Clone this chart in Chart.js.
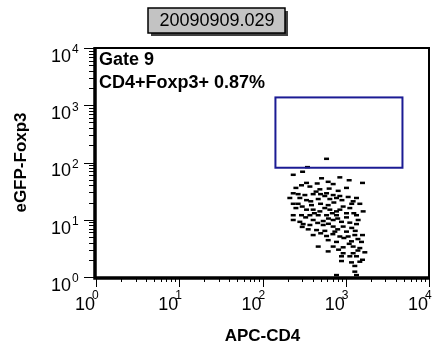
<!DOCTYPE html>
<html>
<head>
<meta charset="utf-8">
<script src="https://cdn.jsdelivr.net/npm/chart.js@4.4.1/dist/chart.umd.min.js"></script>
<style>
  body { margin: 0; background: #fff; }
</style>
</head>
<body>
<canvas id="plot" width="437" height="349"></canvas>
<script>
// events (APC-CD4 vs eGFP-Foxp3)
const apcCD4 = [
  588, 347, 303, 234,
  512, 849, 1099, 1589,
  338, 454, 615, 706, 1021,
  294, 252, 371, 489, 632, 811,
  234, 268, 323, 406, 498, 588, 706, 849, 1069, 1346,
  213, 281, 338, 467, 644, 774, 1227,
  234, 268, 388, 498, 615, 931, 1119, 1476,
  252, 338, 406, 489, 644, 774, 1021, 1618,
  234, 294, 371, 467, 588, 774, 1021, 1346,
  234, 281, 406, 536, 706, 889, 1119, 1409,
  308, 371, 536, 706, 931, 1346,
  354, 446, 561, 740, 1021,
  406, 588, 849, 1069, 1285, 1589,
  615, 774, 1172, 1546,
  467, 706, 931, 1227, 1476,
  615, 931, 1227, 1695,
  889, 1119, 1346,
  889, 1172, 1476, 1589,
  1285, 1285, 774, 1346,
  440, 560, 900, 380, 720, 1180, 300, 560, 850, 420, 690, 1250,
  330, 620, 800, 460, 620, 1180, 300, 800, 1300, 500, 700, 950, 1400, 1100, 820, 1400
];
const eGFPFoxp3 = [
  116, 83, 69, 61,
  53, 55, 49, 44,
  44, 43, 46, 42, 36,
  40, 36, 38, 34, 35, 32,
  29, 28, 27, 28, 28, 29, 27, 26, 25, 24,
  24, 24, 22, 23, 23, 24, 21,
  19, 19, 18, 19, 18, 17, 16, 19,
  16, 15, 15, 14, 15, 14, 13, 14,
  12, 12, 12, 12, 12, 12, 11, 12,
  9.9, 9.2, 9.9, 9.5, 9.9, 9.2, 8.9, 9.9,
  8.4, 8.1, 8.1, 7.6, 7.6, 8.4,
  6.8, 6.6, 6.4, 6.2, 6.2,
  5.4, 5.2, 5.1, 5.1, 5.4, 5.4,
  4.4, 4.1, 4.2, 4.1,
  3.4, 3.4, 3.3, 3.4, 3.2,
  2.8, 2.6, 2.6, 2.7,
  2.3, 2.3, 2.3,
  1.9, 1.8, 1.85, 2.0,
  1.56, 1.24, 1.08, 1.08,
  31, 26, 22, 21, 20, 19, 17, 16, 15, 13, 13, 13,
  11, 10.5, 10.5, 8.8, 8.5, 7.2, 7.5, 6.8, 6.4, 5.8, 5.6, 4.8, 4.6, 3.8, 3.0, 2.9
];
const decades = [1, 10, 100, 1000, 10000];
const exponents = ["0", "1", "2", "3", "4"];
const gateBox = [143, 4800, 81, 1370]; // x from, x to, y from, y to
const fileName = "20090909.029";
const gateLabel = "Gate 9";
const gateStat = "CD4+Foxp3+ 0.87%";
const xTitle = "APC-CD4";
const yTitle = "eGFP-Foxp3";

const points = apcCD4.map((v, i) => ({ x: v, y: eGFPFoxp3[i] }));

const FONT = "Arial, 'Liberation Sans', sans-serif";

const decorations = {
  id: "decorations",
  afterDraw(chart) {
    const ctx = chart.ctx;
    const xs = chart.scales.x, ys = chart.scales.y;
    const a = chart.chartArea;
    ctx.save();
    ctx.strokeStyle = "#000";
    ctx.fillStyle = "#000";

    // frame: heavy left/bottom, thin top/right
    ctx.lineWidth = 2;
    ctx.beginPath();
    ctx.moveTo(a.left, a.top); ctx.lineTo(a.right, a.top); ctx.lineTo(a.right, a.bottom);
    ctx.stroke();
    ctx.lineWidth = 3.5;
    ctx.beginPath();
    ctx.moveTo(a.left - 1, a.top - 1); ctx.lineTo(a.left - 1, a.bottom + 1); ctx.lineTo(a.right + 1, a.bottom + 1);
    ctx.stroke();

    // log ticks
    ctx.lineWidth = 1;
    for (let d = 0; d < decades.length; d++) {
      const steps = d === decades.length - 1 ? 1 : 9;
      for (let m = 1; m <= steps; m++) {
        const v = decades[d] * m;
        const len = m === 1 ? 10 : 5;
        const py = Math.round(ys.getPixelForValue(v)) + 0.5;
        ctx.beginPath(); ctx.moveTo(a.left - 2 - len, py); ctx.lineTo(a.left, py); ctx.stroke();
        const px = Math.round(xs.getPixelForValue(v)) + 0.5;
        ctx.beginPath(); ctx.moveTo(px, a.bottom + 2); ctx.lineTo(px, a.bottom + 2 + len - 2); ctx.stroke();
      }
    }

    // tick labels 10^n
    decades.forEach((v, i) => {
      const py = ys.getPixelForValue(v);
      ctx.textBaseline = "middle";
      ctx.font = "18px " + FONT;
      ctx.textAlign = "right";
      ctx.fillText("10", 71, py + 9);
      ctx.font = "12px " + FONT;
      ctx.textAlign = "left";
      ctx.fillText(exponents[i], 72, py + 2);

      const px = xs.getPixelForValue(v);
      ctx.font = "18px " + FONT;
      ctx.textAlign = "right";
      ctx.fillText("10", px - 1, 305);
      ctx.font = "12px " + FONT;
      ctx.textAlign = "left";
      ctx.fillText(exponents[i], px - 4, 296);
    });

    // axis titles
    ctx.font = "bold 17px " + FONT;
    ctx.textAlign = "center";
    ctx.textBaseline = "middle";
    ctx.fillText(xTitle, (a.left + a.right) / 2, 336);
    ctx.save();
    ctx.translate(21, (a.top + a.bottom) / 2);
    ctx.rotate(-Math.PI / 2);
    ctx.fillText(yTitle, 0, 0);
    ctx.restore();

    // gate rectangle
    const gx1 = xs.getPixelForValue(gateBox[0]), gx2 = xs.getPixelForValue(gateBox[1]);
    const gy1 = ys.getPixelForValue(gateBox[2]), gy2 = ys.getPixelForValue(gateBox[3]);
    ctx.strokeStyle = "#1b1b94";
    ctx.lineWidth = 2;
    ctx.strokeRect(gx1, gy2, gx2 - gx1, gy1 - gy2);

    // gate text
    ctx.fillStyle = "#000";
    ctx.font = "bold 18px " + FONT;
    ctx.textAlign = "left";
    ctx.fillText(gateLabel, a.left + 3, 60);
    ctx.fillText(gateStat, a.left + 3, 83);

    // file name box with shadow
    ctx.fillStyle = "#404040";
    ctx.fillRect(151, 11, 137, 25);
    ctx.fillStyle = "#c3c3c3";
    ctx.fillRect(148, 8, 137, 25);
    ctx.strokeStyle = "#000";
    ctx.lineWidth = 1.5;
    ctx.strokeRect(148, 8, 137, 25);
    ctx.fillStyle = "#000";
    ctx.font = "18px " + FONT;
    ctx.textAlign = "center";
    ctx.fillText(fileName, 217, 21);

    ctx.restore();
  }
};

new Chart(document.getElementById("plot"), {
  type: "scatter",
  data: {
    datasets: [{
      data: points,
      pointStyle: "line",
      pointRadius: 2.5,
      pointBorderWidth: 2.5,
      borderColor: "#000",
      backgroundColor: "#000",
    }],
  },
  options: {
    responsive: false,
    animation: false,
    layout: { padding: { left: 96, right: 8, top: 48, bottom: 72 } },
    scales: {
      x: { type: "logarithmic", min: 1, max: 10000, display: false },
      y: { type: "logarithmic", min: 1, max: 10000, display: false },
    },
    plugins: {
      legend: { display: false },
      tooltip: { enabled: false },
    },
  },
  plugins: [decorations],
});
</script>
</body>
</html>
